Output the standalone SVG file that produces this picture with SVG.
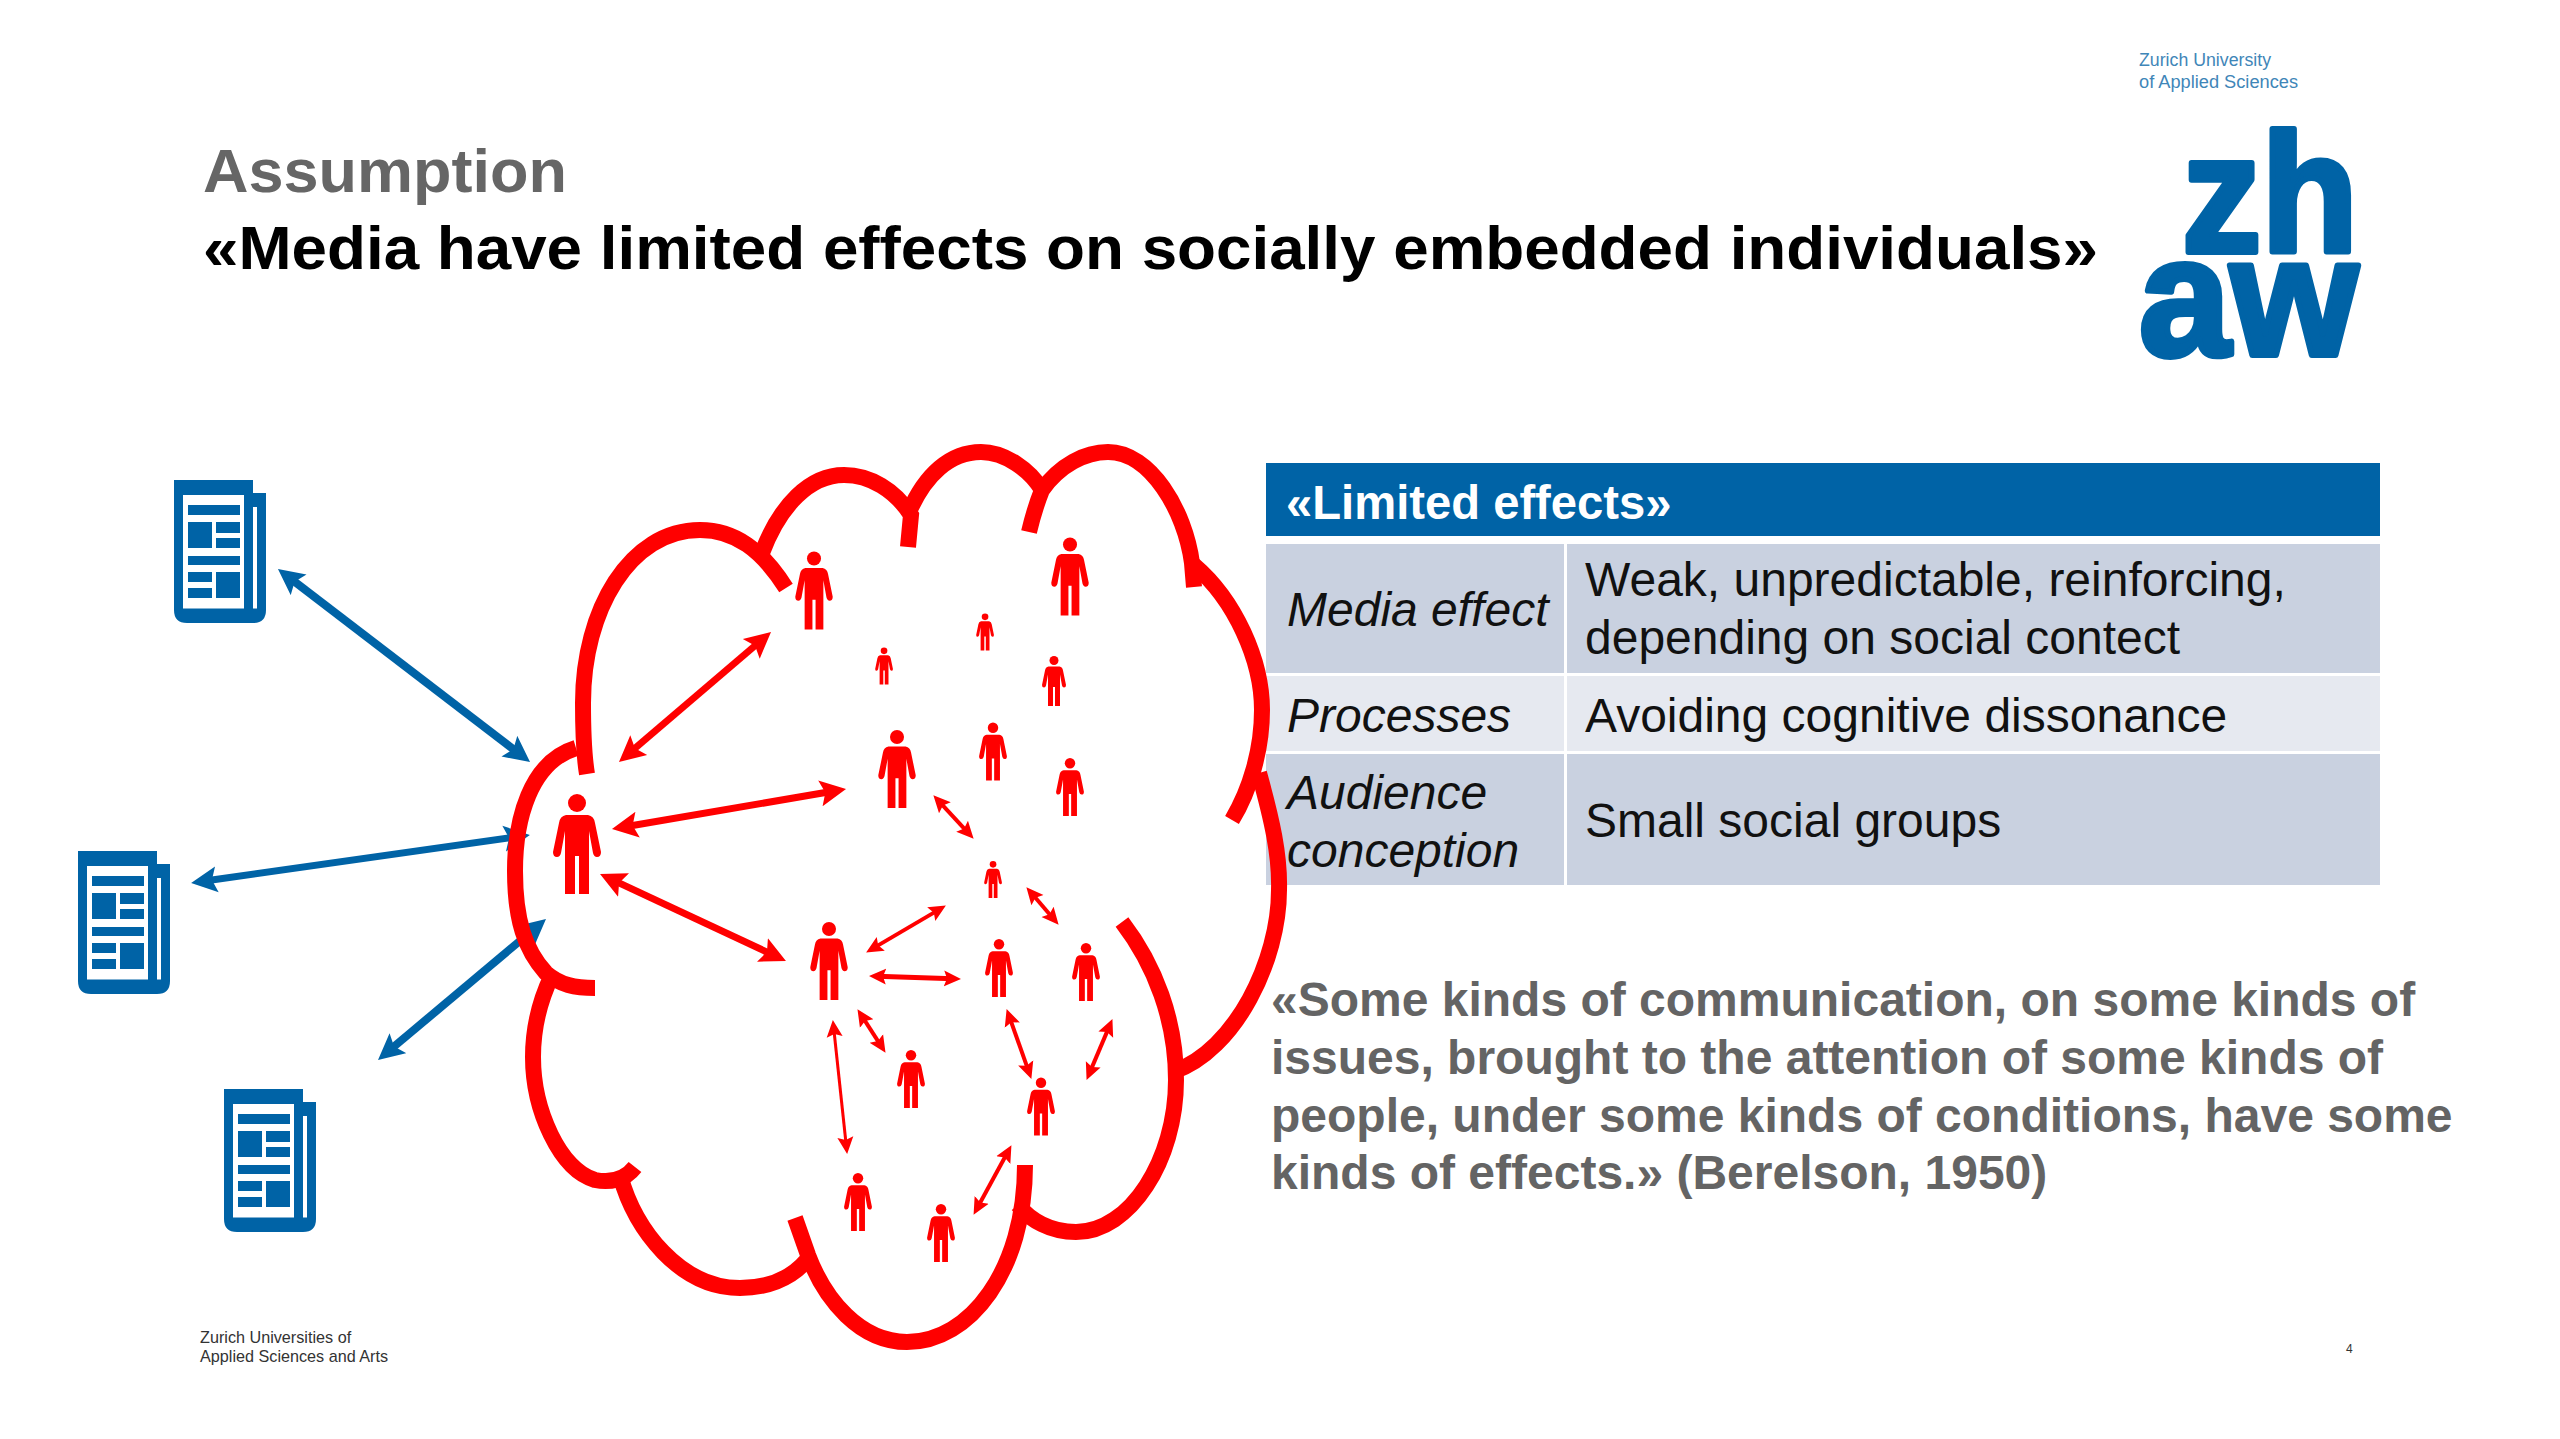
<svg xmlns="http://www.w3.org/2000/svg" xmlns:xlink="http://www.w3.org/1999/xlink" width="2560" height="1439" viewBox="0 0 2560 1439">
<style>
text{font-family:"Liberation Sans",Arial,sans-serif}
.cloud path{fill:none;stroke:#f00;stroke-width:16}
.b{stroke:#0063a6;stroke-width:8;fill:none;marker-start:url(#hb);marker-end:url(#hb)}
.r{stroke:#f00;stroke-width:7;fill:none;marker-start:url(#hr);marker-end:url(#hr)}
.s{stroke:#f00;stroke-width:4;fill:none;marker-start:url(#sr);marker-end:url(#sr)}
.cell{font-size:48px;fill:#111}
.i{font-style:italic}
.q{font-size:48px;font-weight:bold;fill:#646464}
.p{fill:#f00}
.ic{fill:#0063a6}
</style>
<defs>
<marker id="hb" markerUnits="userSpaceOnUse" markerWidth="28" markerHeight="28" refX="14" refY="14" orient="auto-start-reverse"><path d="M0,1 L26,14 L0,27 L5,14Z" fill="#0063a6"/></marker>
<marker id="hr" markerUnits="userSpaceOnUse" markerWidth="28" markerHeight="28" refX="14" refY="14" orient="auto-start-reverse"><path d="M0,1 L26,14 L0,27 L5,14Z" fill="#f00"/></marker>
<marker id="sr" markerUnits="userSpaceOnUse" markerWidth="18" markerHeight="20" refX="9" refY="10" orient="auto-start-reverse"><path d="M0,2 L17,10 L0,18 L3,10Z" fill="#f00"/></marker>
<symbol id="person" viewBox="-25 0 50 100" overflow="visible">
<circle cx="0" cy="9" r="9"/>
<path d="M-11,21 H11 Q17,22 18,29 L24,58 Q24,63 20,63 Q17,63 16,59 L12,37 V100 H2 V62 H-2 V100 H-12 V37 L-16,59 Q-17,63 -20,63 Q-24,63 -24,58 L-18,29 Q-17,22 -11,21Z"/>
</symbol>
<g id="paper">
<path class="ic" d="M0,0 H79 V13 H92 V130 Q92,143 79,143 H13 Q0,143 0,130Z"/>
<path fill="#fff" d="M9,15 H70 V128.500 H9Z M79,27 H83 V128.500 H79Z"/>
<path class="ic" d="M14,25 H66 V35 H14Z M14,42 H38 V68 H14Z M42,42 H66 V53 H42Z M42,58 H66 V68 H42Z M14,76 H66 V85 H14Z M14,92 H38 V102 H14Z M14,108 H38 V118 H14Z M42,92 H66 V118 H42Z"/>
</g>
</defs>
<rect width="2560" height="1439" fill="#fff"/>

<g id="title">
<text x="203" y="192" font-size="62" font-weight="bold" fill="#666" textLength="364" lengthAdjust="spacingAndGlyphs">Assumption</text>
<text x="203" y="269" font-size="62" font-weight="bold" fill="#000" textLength="1895" lengthAdjust="spacingAndGlyphs">«Media have limited effects on socially embedded individuals»</text>
</g>

<g id="logo">
<text x="2139" y="66" font-size="18" fill="#3f86b8" textLength="132" lengthAdjust="spacingAndGlyphs">Zurich University</text>
<text x="2139" y="88" font-size="18" fill="#3f86b8" textLength="159" lengthAdjust="spacingAndGlyphs">of Applied Sciences</text>
<text x="2182" y="252" font-size="168" font-weight="bold" fill="#0063a6" stroke="#0063a6" stroke-width="6" stroke-linejoin="round" textLength="176" lengthAdjust="spacingAndGlyphs">zh</text>
<text x="2139" y="355" font-size="168" font-weight="bold" fill="#0063a6" stroke="#0063a6" stroke-width="6" stroke-linejoin="round" textLength="219" lengthAdjust="spacingAndGlyphs">aw</text>
</g>

<g id="table">
<rect x="1266" y="463" width="1114" height="73" fill="#0063a6"/>
<rect x="1266" y="544" width="298" height="129" fill="#c9d1e0"/>
<rect x="1567" y="544" width="813" height="129" fill="#c9d1e0"/>
<rect x="1266" y="676" width="298" height="75" fill="#e6e9f0"/>
<rect x="1567" y="676" width="813" height="75" fill="#e6e9f0"/>
<rect x="1266" y="754" width="298" height="131" fill="#c9d1e0"/>
<rect x="1567" y="754" width="813" height="131" fill="#c9d1e0"/>
<text x="1286" y="519" font-size="47.200" font-weight="bold" fill="#fff">«Limited effects»</text>
<text class="cell i" x="1287" y="626">Media effect</text>
<text class="cell" x="1585" y="596">Weak, unpredictable, reinforcing,</text>
<text class="cell" x="1585" y="654">depending on social contect</text>
<text class="cell i" x="1287" y="732">Processes</text>
<text class="cell" x="1585" y="732">Avoiding cognitive dissonance</text>
<text class="cell i" x="1287" y="809">Audience</text>
<text class="cell i" x="1287" y="867">conception</text>
<text class="cell" x="1585" y="837">Small social groups</text>
</g>

<g id="quote">
<text class="q" x="1271" y="1016">«Some kinds of communication, on some kinds of</text>
<text class="q" x="1271" y="1074">issues, brought to the attention of some kinds of</text>
<text class="q" x="1271" y="1132">people, under some kinds of conditions, have some</text>
<text class="q" x="1271" y="1189">kinds of effects.» (Berelson, 1950)</text>
</g>

<g id="footer">
<text x="200" y="1343" font-size="16.200" fill="#333">Zurich Universities of</text>
<text x="200" y="1362" font-size="16.200" fill="#333">Applied Sciences and Arts</text>
<text x="2346" y="1353" font-size="12" fill="#333">4</text>
</g>

<g id="newspaper-1"><use href="#paper" x="174" y="480"/></g>
<g id="newspaper-2"><use href="#paper" x="78" y="851"/></g>
<g id="newspaper-3"><use href="#paper" x="224" y="1089"/></g>

<g id="connectors-media">
<path class="b" d="M287.500,576.300 L520.500,754.700"/>
<path class="b" style="stroke-width:7" d="M518,836.700 L203,881.300"/>
<path class="b" d="M536.800,926.700 L387.200,1052.300"/>
</g>

<g id="cloud" class="cloud">
<path d="M576,748 C530,762 515,820 515,871 C515,920 525,950 546,973 C560,985 575,988 595,988"/>
<path d="M587,774 C583,750 583,720 583,703 C583,610 630,530 700,530 C735,530 762,550 786,588"/>
<path d="M762,553 C780,505 810,475 844,475 C870,475 895,490 911,515 L908,547"/>
<path d="M909,512 C925,475 950,452 981,452 C1005,452 1030,470 1042,490"/>
<path d="M1029,532 C1033,515 1038,500 1042,490 C1060,465 1085,452 1108,452 C1150,452 1185,510 1192,563 L1194,587"/>
<path d="M1194,565 C1235,600 1262,660 1262,710 C1262,750 1250,790 1232,820"/>
<path d="M1259,773 C1272,820 1280,855 1279,890 C1279,960 1236,1050 1173,1072"/>
<path d="M1122,922 C1155,965 1176,1020 1176,1080 C1176,1160 1130,1232 1076,1232 C1050,1232 1030,1220 1018,1205"/>
<path d="M1025,1165 C1025,1270 970,1342 907,1342 C860,1342 825,1300 808,1255 L795,1218"/>
<path d="M807,1260 C790,1280 765,1288 740,1288 C680,1288 635,1230 620,1175"/>
<path d="M635,1167 C625,1180 610,1183 595,1180 C560,1170 533,1110 533,1057 C533,1030 540,1000 552,975"/>
</g>

<g id="connectors-people">
<path class="r" d="M761.900,639.800 L628.100,754.200"/>
<path class="r" d="M834.200,791 L623.800,827"/>
<path class="r" d="M610.900,879.100 L775.100,955.900"/>
<path class="s" d="M938.800,801.100 L968.200,832.900"/>
<path class="s" d="M1031.600,893.300 L1053.400,918.700"/>
<path class="s" d="M939,909.600 L873,948.400"/>
<path class="s" style="stroke-width:5" d="M877,976.200 L953,978.800"/>
<path class="s" d="M861.800,1015.900 L881.200,1046.100"/>
<path class="s" style="stroke-width:3" d="M833.700,1028 L846.300,1146"/>
<path class="s" d="M1009.300,1016.600 L1028.700,1071.400"/>
<path class="s" d="M1109.300,1026.400 L1089.700,1072.600"/>
<path class="s" d="M1007.600,1152.200 L977.400,1207.800"/>
</g>

<g id="people" class="p">
<g id="person-1"><use href="#person" x="552" y="793" width="50" height="102"/></g>
<g id="person-2"><use href="#person" x="794.500" y="551" width="39" height="79"/></g>
<g id="person-3"><use href="#person" x="1050.500" y="537" width="39" height="79"/></g>
<g id="person-4"><use href="#person" x="975.800" y="613" width="18.500" height="38"/></g>
<g id="person-5"><use href="#person" x="874.800" y="647" width="18.500" height="38"/></g>
<g id="person-6"><use href="#person" x="1041.500" y="656" width="25" height="50"/></g>
<g id="person-7"><use href="#person" x="877.500" y="730" width="39" height="78"/></g>
<g id="person-8"><use href="#person" x="978.500" y="722" width="29" height="59"/></g>
<g id="person-9"><use href="#person" x="1055.500" y="758" width="29" height="58"/></g>
<g id="person-10"><use href="#person" x="983.800" y="861" width="18.500" height="37"/></g>
<g id="person-11"><use href="#person" x="809.500" y="922" width="39" height="78"/></g>
<g id="person-12"><use href="#person" x="984.500" y="939" width="29" height="58"/></g>
<g id="person-13"><use href="#person" x="1071.500" y="943" width="29" height="58"/></g>
<g id="person-14"><use href="#person" x="896.500" y="1050" width="29" height="58"/></g>
<g id="person-15"><use href="#person" x="1026.500" y="1077" width="29" height="59"/></g>
<g id="person-16"><use href="#person" x="843.500" y="1173" width="29" height="58"/></g>
<g id="person-17"><use href="#person" x="926.500" y="1204" width="29" height="58"/></g>
</g>
</svg>
